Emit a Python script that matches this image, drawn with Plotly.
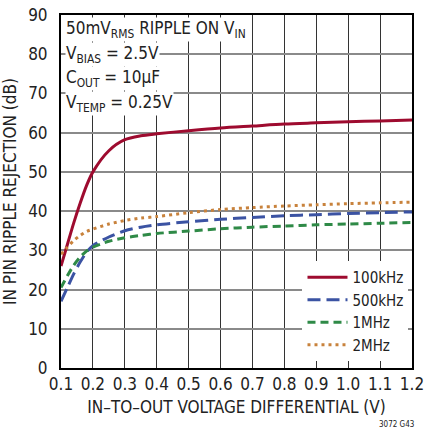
import plotly.graph_objects as go

FONT = "DejaVu Sans Condensed, Liberation Sans, sans-serif"

x_v = [0.1, 0.12, 0.14, 0.16, 0.18, 0.2, 0.25, 0.3, 0.35, 0.4, 0.5, 0.6, 0.7, 0.8, 0.9, 1.0, 1.1, 1.2]
rej_100k = [26.0, 31.5, 37.0, 42.0, 46.5, 50.0, 55.4, 58.2, 59.2, 59.7, 60.5, 61.2, 61.7, 62.2, 62.5, 62.8, 63.0, 63.2]
rej_500k = [17.0, 20.5, 24.0, 27.0, 29.5, 31.2, 33.4, 35.0, 35.9, 36.5, 37.3, 37.9, 38.4, 38.8, 39.1, 39.4, 39.6, 39.8]
rej_1m = [20.5, 23.5, 26.2, 28.3, 29.8, 30.8, 32.3, 33.2, 33.8, 34.3, 34.9, 35.5, 35.9, 36.2, 36.5, 36.7, 36.9, 37.1]
rej_2m = [29.0, 30.8, 32.5, 33.8, 34.8, 35.4, 36.7, 37.6, 38.2, 38.6, 39.6, 40.4, 40.9, 41.3, 41.6, 41.9, 42.1, 42.3]

series = [
    ("100kHz", rej_100k, "#9e0b2f", "solid"),
    ("500kHz", rej_500k, "#3b53a3", "13px,6px"),
    ("1MHz", rej_1m, "#2f8a47", "8px,5px"),
    ("2MHz", rej_2m, "#c8823c", "3px,4px"),
]

x_ticks = [0.1, 0.2, 0.3, 0.4, 0.5, 0.6, 0.7, 0.8, 0.9, 1.0, 1.1, 1.2]
x_tick_labels = ["0.1", "0.2", "0.3", "0.4", "0.5", "0.6", "0.7", "0.8", "0.9", "1.0", "1.1", "1.2"]
y_ticks = [0, 10, 20, 30, 40, 50, 60, 70, 80, 90]

notes = [
    "50mV<sub>RMS</sub> RIPPLE ON V<sub>IN</sub>",
    "V<sub>BIAS</sub> = 2.5V",
    "C<sub>OUT</sub> = 10µF",
    "V<sub>TEMP</sub> = 0.25V",
]

fig = go.Figure()
for name, ys, color, dash in series:
    fig.add_trace(
        go.Scatter(
            x=x_v,
            y=ys,
            mode="lines",
            name=name,
            line={"color": color, "width": 3, "dash": dash, "shape": "spline", "smoothing": 0.8},
        )
    )

for i, txt in enumerate(notes):
    fig.add_annotation(
        xref="paper",
        yref="paper",
        x=0.012,
        y=0.993 - i * 0.069,
        xanchor="left",
        yanchor="top",
        text=txt,
        showarrow=False,
        bgcolor="white",
        borderpad=0,
        font={"size": 17, "color": "#222"},
    )

fig.add_annotation(
    xref="paper",
    yref="paper",
    x=1.01,
    y=-0.178,
    xanchor="right",
    yanchor="bottom",
    text="3072 G43",
    showarrow=False,
    font={"size": 8, "color": "#222"},
)

fig.update_layout(
    width=426,
    height=432,
    margin={"l": 61, "r": 14, "t": 15, "b": 64, "autoexpand": False},
    paper_bgcolor="white",
    plot_bgcolor="white",
    font={"family": FONT, "size": 17, "color": "#222"},
    legend={
        "x": 0.99,
        "y": 0.02,
        "xanchor": "right",
        "yanchor": "bottom",
        "bgcolor": "white",
        "font": {"size": 15},
        "tracegroupgap": 0,
        "itemwidth": 40,
    },
    showlegend=True,
)
fig.update_xaxes(
    range=[0.1, 1.2],
    tickvals=x_ticks,
    ticktext=x_tick_labels,
    showgrid=True,
    gridcolor="#333",
    gridwidth=1,
    showline=True,
    linecolor="black",
    linewidth=2,
    mirror=True,
    ticks="",
    zeroline=False,
    automargin=False,
    title={"text": "IN–TO–OUT VOLTAGE DIFFERENTIAL (V)", "font": {"size": 17}, "standoff": 8},
)
fig.update_yaxes(
    range=[0, 90],
    tickvals=y_ticks,
    showgrid=True,
    gridcolor="#8a8a8a",
    gridwidth=2,
    showline=True,
    linecolor="black",
    linewidth=2,
    mirror=True,
    ticks="outside",
    ticklen=8,
    tickcolor="rgba(0,0,0,0)",
    zeroline=False,
    automargin=False,
    title={"text": "IN PIN RIPPLE REJECTION (dB)", "font": {"size": 17}, "standoff": 9},
)

fig.write_html(
    "out.html",
    config={"displayModeBar": False},
    post_script="document.body.style.margin='0';",
)
